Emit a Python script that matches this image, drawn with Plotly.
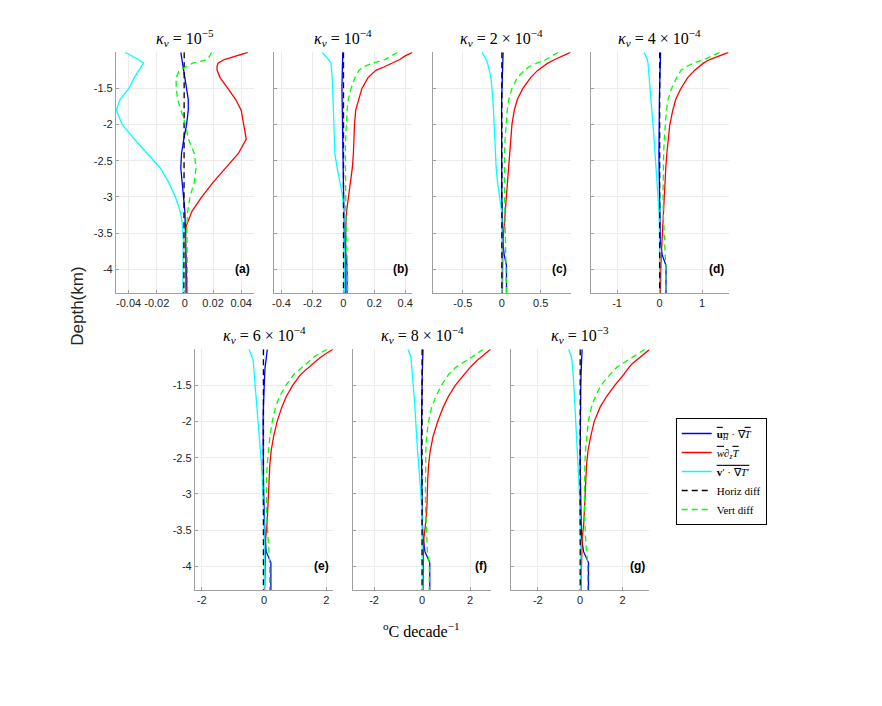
import plotly.graph_objects as go

# the page has an 8px body margin, so the figure is sized to fit the window
PAGE_OFF = 8
W, H = 882 - PAGE_OFF, 706 - PAGE_OFF

# depth levels (km) shared by every profile
DEPTH = [-1.0, -1.05, -1.1, -1.15, -1.2, -1.25, -1.35, -1.5, -1.65, -1.8, -2.0, -2.2, -2.4,
         -2.6, -2.8, -3.0, -3.2, -3.4, -3.6, -3.8, -3.95, -4.1, -4.33]

# (a) kv = 1e-5
ADV_H_A = [-0.0029, -0.0025, -0.002, -0.0015, -0.001, -0.0006, 0.0, 0.0014, 0.0024, 0.0024,
           0.0012, -0.0008, -0.0024, -0.0029, -0.0022, -0.001, 0.0, 0.0004, 0.0006, 0.0008,
           0.001, 0.0012, 0.0014]
ADV_V_A = [0.0448, 0.036, 0.028, 0.0235, 0.0228, 0.0229, 0.025, 0.0305, 0.036, 0.040,
           0.0418, 0.0436, 0.038, 0.029, 0.020, 0.012, 0.005, 0.001, 0.0003, 0.0005,
           0.0006, 0.0007, 0.0007]
EDDY_A = [-0.0426, -0.038, -0.033, -0.0295, -0.031, -0.0325, -0.036, -0.0398, -0.046, -0.0488,
          -0.0445, -0.036, -0.0265, -0.0175, -0.0115, -0.0068, -0.0033, -0.0016, -0.0012, -0.0012,
          -0.0012, -0.0013, -0.0014]
HDIFF_A = [-0.0005, -0.0005, -0.0004, -0.0004, -0.0003, -0.0003, -0.0003, -0.0002, -0.0002, -0.0002,
           -0.0002, -0.0003, -0.0003, -0.0003, -0.0004, -0.0004, -0.0004, -0.0005, -0.0005, -0.0006,
           -0.0006, -0.0007, -0.0008]
VDIFF_A = [0.019, 0.0178, 0.0162, 0.0055, 0.0005, -0.004, -0.0062, -0.0062, -0.0052, -0.0029,
           0.0004, 0.0025, 0.0067, 0.0079, 0.0066, 0.0036, 0.002, 0.0014, 0.0015, 0.0017,
           0.0018, 0.0019, 0.0019]

# (b) kv = 1e-4
ADV_H_B = [-0.004, -0.005, -0.006, -0.007, -0.008, -0.0085, -0.009, -0.009, -0.008, -0.007,
           -0.006, -0.005, -0.004, -0.003, -0.002, 0.0, 0.001, 0.003, 0.006, 0.016,
           0.024, 0.024, 0.024]
ADV_V_B = [0.447, 0.40, 0.365, 0.318, 0.265, 0.21, 0.16, 0.12, 0.10, 0.08,
           0.072, 0.069, 0.065, 0.058, 0.045, 0.032, 0.021, 0.016, 0.014, 0.013,
           0.013, 0.013, 0.013]
EDDY_B = [-0.138, -0.115, -0.095, -0.08, -0.077, -0.074, -0.072, -0.069, -0.067, -0.065,
          -0.062, -0.059, -0.055, -0.040, -0.020, -0.004, 0.002, 0.004, 0.005, 0.005,
          0.006, 0.006, 0.006]
HDIFF_B = [0.001, 0.001, 0.001, 0.001, 0.001, 0.001, 0.001, 0.001, 0.001, 0.001,
           0.001, 0.001, 0.001, 0.001, 0.001, 0.001, 0.001, 0.001, 0.001, 0.001,
           0.001, 0.001, 0.001]
VDIFF_B = [0.35, 0.31, 0.27, 0.19, 0.13, 0.10, 0.075, 0.05, 0.032, 0.024,
           0.018, 0.015, 0.013, 0.013, 0.014, 0.015, 0.016, 0.018, 0.022, 0.026,
           0.028, 0.028, 0.028]

# (c) kv = 2e-4
ADV_H_C = [0.017, 0.015, 0.012, 0.01, 0.008, 0.006, 0.004, 0.0, -0.002, -0.003,
           -0.004, -0.004, -0.004, -0.003, -0.002, 0.0, 0.003, 0.006, 0.012, 0.03,
           0.06, 0.06, 0.06]
ADV_V_C = [0.88, 0.77, 0.68, 0.59, 0.52, 0.46, 0.37, 0.27, 0.20, 0.16,
           0.13, 0.115, 0.10, 0.09, 0.075, 0.055, 0.04, 0.025, 0.016, 0.012,
           0.01, 0.008, 0.008]
EDDY_C = [-0.255, -0.225, -0.2, -0.183, -0.175, -0.16, -0.14, -0.125, -0.115, -0.107,
          -0.10, -0.092, -0.085, -0.072, -0.055, -0.03, -0.002, 0.002, 0.002, 0.002,
          0.002, 0.002, 0.002]
HDIFF_C = [0.001, 0.001, 0.001, 0.001, 0.001, 0.001, 0.001, 0.001, 0.001, 0.001,
           0.001, 0.001, 0.001, 0.001, 0.001, 0.001, 0.001, 0.001, 0.001, 0.001,
           0.001, 0.001, 0.001]
VDIFF_C = [0.723, 0.65, 0.57, 0.45, 0.35, 0.29, 0.20, 0.13, 0.09, 0.07,
           0.053, 0.042, 0.035, 0.032, 0.033, 0.036, 0.04, 0.045, 0.052, 0.058,
           0.06, 0.06, 0.06]

# (d) kv = 4e-4
ADV_H_D = [0.023, 0.019, 0.015, 0.011, 0.008, 0.006, 0.003, 0.0, -0.005, -0.01,
           -0.014, -0.016, -0.016, -0.012, -0.008, -0.004, 0.0, 0.005, 0.015, 0.06,
           0.15, 0.15, 0.15]
ADV_V_D = [1.62, 1.38, 1.18, 1.03, 0.92, 0.82, 0.66, 0.50, 0.38, 0.31,
           0.24, 0.20, 0.17, 0.145, 0.125, 0.11, 0.095, 0.075, 0.055, 0.04,
           0.03, 0.025, 0.02]
EDDY_D = [-0.367, -0.33, -0.29, -0.273, -0.265, -0.258, -0.245, -0.22, -0.20, -0.18,
          -0.155, -0.13, -0.105, -0.085, -0.06, -0.035, -0.015, -0.005, 0.0, 0.0,
          0.0, 0.0, 0.0]
HDIFF_D = [0.002, 0.002, 0.002, 0.002, 0.002, 0.002, 0.002, 0.002, 0.002, 0.002,
           0.002, 0.002, 0.002, 0.002, 0.002, 0.002, 0.002, 0.002, 0.002, 0.002,
           0.002, 0.002, 0.002]
VDIFF_D = [1.41, 1.22, 1.05, 0.80, 0.62, 0.50, 0.40, 0.28, 0.20, 0.16,
           0.13, 0.11, 0.095, 0.085, 0.08, 0.08, 0.085, 0.095, 0.11, 0.13,
           0.145, 0.145, 0.145]

# (e) kv = 6e-4
ADV_H_E = [0.106, 0.088, 0.07, 0.057, 0.045, 0.035, 0.02, 0.0, -0.01, -0.02,
           -0.03, -0.032, -0.032, -0.028, -0.02, -0.012, -0.005, 0.0, 0.03, 0.07,
           0.22, 0.22, 0.22]
ADV_V_E = [2.21, 2.02, 1.85, 1.70, 1.56, 1.42, 1.17, 0.92, 0.72, 0.57,
           0.42, 0.31, 0.23, 0.185, 0.165, 0.15, 0.135, 0.10, 0.055, 0.04,
           0.03, 0.025, 0.02]
EDDY_E = [-0.48, -0.44, -0.40, -0.35, -0.34, -0.33, -0.31, -0.28, -0.26, -0.235,
          -0.19, -0.15, -0.115, -0.08, -0.055, -0.03, -0.01, 0.0, 0.005, 0.01,
          0.01, 0.01, 0.01]
HDIFF_E = [-0.02, -0.02, -0.02, -0.02, -0.02, -0.02, -0.02, -0.02, -0.02, -0.02,
           -0.02, -0.02, -0.02, -0.02, -0.02, -0.02, -0.02, -0.02, -0.02, -0.02,
           -0.02, -0.02, -0.02]
VDIFF_E = [2.02, 1.80, 1.62, 1.49, 1.35, 1.20, 0.95, 0.70, 0.50, 0.37,
           0.265, 0.19, 0.14, 0.10, 0.08, 0.075, 0.078, 0.10, 0.13, 0.17,
           0.18, 0.18, 0.18]

# (f) kv = 8e-4
ADV_H_F = [0.04, 0.032, 0.025, 0.018, 0.01, 0.008, 0.005, 0.0, -0.01, -0.018,
           -0.025, -0.028, -0.028, -0.022, -0.015, -0.008, 0.0, 0.01, 0.04, 0.12,
           0.32, 0.32, 0.32]
ADV_V_F = [2.85, 2.65, 2.45, 2.30, 2.15, 2.0, 1.75, 1.38, 1.10, 0.88,
           0.65, 0.46, 0.34, 0.27, 0.235, 0.22, 0.20, 0.15, 0.08, 0.06,
           0.05, 0.04, 0.04]
EDDY_F = [-0.59, -0.53, -0.47, -0.455, -0.44, -0.425, -0.40, -0.36, -0.33, -0.30,
          -0.27, -0.23, -0.19, -0.14, -0.09, -0.04, -0.01, 0.0, 0.01, 0.01,
          0.01, 0.01, 0.01]
HDIFF_F = [0.0, 0.0, 0.0, 0.0, 0.0, 0.0, 0.0, 0.0, 0.0, 0.0,
           0.0, 0.0, 0.0, 0.0, 0.0, 0.0, 0.0, 0.0, 0.0, 0.0,
           0.0, 0.0, 0.0]
VDIFF_F = [2.55, 2.33, 2.13, 1.88, 1.62, 1.40, 1.10, 0.80, 0.58, 0.40,
           0.27, 0.19, 0.155, 0.14, 0.14, 0.14, 0.145, 0.16, 0.19, 0.22,
           0.30, 0.30, 0.30]

# (g) kv = 1e-3
ADV_H_G = [0.09, 0.08, 0.07, 0.06, 0.05, 0.045, 0.04, 0.03, 0.02, 0.01,
           0.005, 0.0, 0.0, 0.0, 0.005, 0.01, 0.02, 0.03, 0.06, 0.16,
           0.39, 0.39, 0.39]
ADV_V_G = [3.28, 3.06, 2.85, 2.65, 2.45, 2.30, 2.05, 1.63, 1.25, 0.94,
           0.66, 0.50, 0.37, 0.30, 0.27, 0.25, 0.23, 0.17, 0.10, 0.07,
           0.06, 0.05, 0.05]
EDDY_G = [-0.55, -0.48, -0.42, -0.39, -0.37, -0.355, -0.33, -0.30, -0.27, -0.24,
          -0.20, -0.17, -0.14, -0.10, -0.065, -0.035, -0.01, 0.01, 0.03, 0.03,
          0.03, 0.03, 0.03]
HDIFF_G = [0.0, 0.0, 0.0, 0.0, 0.0, 0.0, 0.0, 0.0, 0.0, 0.0,
           0.0, 0.0, 0.0, 0.0, 0.0, 0.0, 0.0, 0.0, 0.0, 0.0,
           0.0, 0.0, 0.0]
VDIFF_G = [3.05, 2.80, 2.50, 2.25, 1.98, 1.72, 1.40, 0.98, 0.72, 0.53,
           0.38, 0.30, 0.25, 0.22, 0.20, 0.20, 0.20, 0.22, 0.25, 0.30,
           0.35, 0.35, 0.35]

LETTERS = ["(a)", "(b)", "(c)", "(d)", "(e)", "(f)", "(g)"]
TITLES = ["10<sup>−5</sup>", "10<sup>−4</sup>", "2 × 10<sup>−4</sup>", "4 × 10<sup>−4</sup>",
          "6 × 10<sup>−4</sup>", "8 × 10<sup>−4</sup>", "10<sup>−3</sup>"]
X_TICKS = [[-0.04, -0.02, 0, 0.02, 0.04], [-0.4, -0.2, 0, 0.2, 0.4], [-0.5, 0, 0.5],
           [-1, 0, 1], [-2, 0, 2], [-2, 0, 2], [-2, 0, 2]]
Y_TICKS = [-4, -3.5, -3, -2.5, -2, -1.5]

SERIES = [
    [ADV_H_A, ADV_V_A, EDDY_A, HDIFF_A, VDIFF_A],
    [ADV_H_B, ADV_V_B, EDDY_B, HDIFF_B, VDIFF_B],
    [ADV_H_C, ADV_V_C, EDDY_C, HDIFF_C, VDIFF_C],
    [ADV_H_D, ADV_V_D, EDDY_D, HDIFF_D, VDIFF_D],
    [ADV_H_E, ADV_V_E, EDDY_E, HDIFF_E, VDIFF_E],
    [ADV_H_F, ADV_V_F, EDDY_F, HDIFF_F, VDIFF_F],
    [ADV_H_G, ADV_V_G, EDDY_G, HDIFF_G, VDIFF_G],
]

OL = "<span style='text-decoration:overline'>"
NAMES = [
    OL + "<b>u</b><sub><i>H</i></sub></span> · ∇" + OL + "<i>T</i></span>",
    OL + "<i>w</i></span>∂<sub><i>z</i></sub>" + OL + "<i>T</i></span>",
    OL + "<b>v</b>′ · ∇<i>T</i>′</span>",
    "Horiz diff",
    "Vert diff",
]
STYLES = [("#0000ff", "solid"), ("#ff0000", "solid"), ("#00ffff", "solid"),
          ("#000000", "6px,4px"), ("#00ff00", "6px,4px")]

# panel boxes in window pixels (left, right, top, bottom) and x half-range
BOXES = [(114.3, 252.7, 52.3, 293), (273.3, 411.7, 52.3, 293), (432.3, 570.7, 52.3, 293),
         (590.7, 729, 52.3, 293), (193.5, 332.3, 349.3, 590), (352.3, 490.7, 349.3, 590),
         (511, 649.3, 349.3, 590)]
XHALF = [0.049, 0.446, 0.885, 1.62, 2.22, 2.87, 3.25]


def fx(px):
    return (px - PAGE_OFF) / W


def fy(py):
    return 1 - (py - PAGE_OFF) / H


TICKFONT = dict(family="Liberation Sans, Arial, sans-serif", size=11, color="#262626")
SERIF = "Liberation Serif, Times New Roman, serif"

fig = go.Figure()
annotations = []
for i in range(7):
    n = "" if i == 0 else str(i + 1)
    l, r, t, b = BOXES[i]
    for j in range(5):
        color, dash = STYLES[j]
        fig.add_trace(go.Scatter(
            x=SERIES[i][j], y=DEPTH, mode="lines", name=NAMES[j],
            line=dict(color=color, width=1.3, dash=dash),
            xaxis="x" + n, yaxis="y" + n, showlegend=(i == 0),
        ))
    show_y = i in (0, 4)
    fig.layout["xaxis" + n] = dict(
        domain=[fx(l), fx(r)], anchor="y" + n, range=[-XHALF[i], XHALF[i]],
        tickvals=X_TICKS[i], ticktext=[("%g" % v) for v in X_TICKS[i]],
        showgrid=True, gridcolor="#ebebeb", gridwidth=1, zeroline=False,
        showline=True, linecolor="#a0a0a0", linewidth=1,
        ticks="inside", ticklen=3, tickcolor="#a0a0a0", tickfont=TICKFONT,
    )
    fig.layout["yaxis" + n] = dict(
        domain=[fy(b), fy(t)], anchor="x" + n, range=[-4.33, -1.0],
        tickvals=Y_TICKS, ticktext=[("%g" % v) for v in Y_TICKS], showticklabels=show_y,
        showgrid=True, gridcolor="#ebebeb", gridwidth=1, zeroline=False,
        showline=True, linecolor="#a0a0a0", linewidth=1,
        ticks="inside", ticklen=3, tickcolor="#a0a0a0", tickfont=TICKFONT,
    )
    annotations.append(dict(
        text="<i>κ<sub>v</sub></i> = " + TITLES[i], xref="paper", yref="paper",
        x=fx((l + r) / 2), y=fy(t), xanchor="center", yanchor="bottom", yshift=1,
        showarrow=False, font=dict(family=SERIF, size=16, color="#000000"),
    ))
    annotations.append(dict(
        text="<b>" + LETTERS[i] + "</b>", xref="x" + n + " domain", yref="y" + n,
        x=0.985, y=-4.0, xanchor="right", yanchor="middle", showarrow=False,
        font=dict(family="Liberation Sans, Arial, sans-serif", size=12, color="#000000"),
    ))

annotations.append(dict(
    text="Depth(km)", xref="paper", yref="paper", x=fx(75), y=fy(306),
    textangle=-90, xanchor="center", yanchor="middle", showarrow=False,
    font=dict(family="Liberation Sans, Arial, sans-serif", size=17, color="#262626"),
))
annotations.append(dict(
    text="<sup>o</sup>C decade<sup>−1</sup>", xref="paper", yref="paper",
    x=fx(421), y=fy(630), xanchor="center", yanchor="middle", showarrow=False,
    font=dict(family=SERIF, size=16, color="#000000"),
))

fig.update_layout(
    width=W, height=H, margin=dict(l=0, r=0, t=0, b=0),
    paper_bgcolor="white", plot_bgcolor="white",
    annotations=annotations,
    legend=dict(x=fx(676), y=fy(418), xanchor="left", yanchor="top",
                bordercolor="#000000", borderwidth=1, bgcolor="white",
                font=dict(family=SERIF, size=11, color="#000000"),
                tracegroupgap=0, itemwidth=30),
)

fig.write_html("out.html")
